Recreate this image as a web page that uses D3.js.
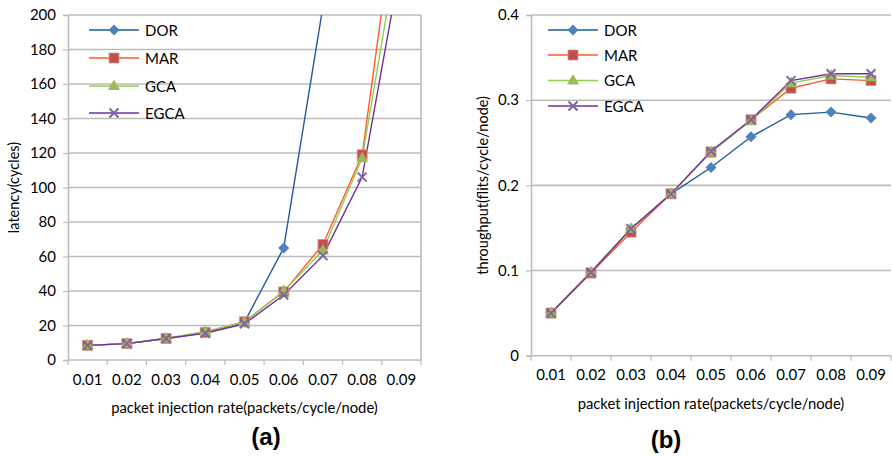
<!DOCTYPE html>
<html>
<head>
<meta charset="utf-8">
<script src="https://cdn.jsdelivr.net/npm/d3@7"></script>
<style>
  body { margin: 0; background: #fff; }
  svg text { font-family: Lato, "Open Sans", sans-serif; fill: #000; }
</style>
</head>
<body>
<div id="chart"></div>
<script>
// injection rates (category axis)
var rates = ["0.01", "0.02", "0.03", "0.04", "0.05", "0.06", "0.07", "0.08", "0.09"];
var seriesNames = ["DOR", "MAR", "GCA", "EGCA"];

// (a) latency (cycles) -- points above 200 are cut off by the axis
var latDOR  = [8.5, 9.5, 12.5, 16, 22, 65, 205];
var latMAR  = [8.5, 9.5, 12.5, 16, 22.2, 39.5, 67, 119, 286];
var latGCA  = [8.5, 9.5, 12.5, 16.5, 22, 40, 63.5, 117, 251];
var latEGCA = [8.5, 9.5, 12.5, 15.5, 21, 37.7, 60.5, 106, 232];

// (b) throughput (flits/cycle/node)
var thrDOR  = [0.050, 0.098, 0.149, 0.190, 0.221, 0.257, 0.283, 0.286, 0.279];
var thrMAR  = [0.050, 0.097, 0.145, 0.190, 0.239, 0.277, 0.314, 0.325, 0.323];
var thrGCA  = [0.050, 0.098, 0.149, 0.190, 0.239, 0.276, 0.320, 0.329, 0.327];
var thrEGCA = [0.050, 0.098, 0.149, 0.190, 0.240, 0.277, 0.323, 0.331, 0.331];

var latTicks = [0, 20, 40, 60, 80, 100, 120, 140, 160, 180, 200];
var thrTicks = [0, 0.1, 0.2, 0.3, 0.4];

var lineColors   = ["#1f5c9f", "#ff5a2b", "#92d050", "#7030a0"];
var markerColors = ["#4f81bd", "#c0504d", "#9bbb59", "#8064a2"];
var markerTypes  = ["diamond", "square", "triangle", "cross"];

var svg = d3.select("#chart").append("svg")
    .attr("width", 892)
    .attr("height", 456);

function drawMarker(g, type, x, y, i) {
  if (type === "cross") {
    g.append("path")
        .attr("d", "M" + (x - 4.5) + "," + (y - 4.5) + "L" + (x + 4.5) + "," + (y + 4.5) +
          "M" + (x - 4.5) + "," + (y + 4.5) + "L" + (x + 4.5) + "," + (y - 4.5))
        .attr("stroke", markerColors[i])
        .attr("stroke-width", 2)
        .attr("fill", "none");
    return;
  }
  if (type === "diamond") {
    g.append("path")
        .attr("d", "M" + x + "," + (y - 5.5) + "L" + (x + 5.5) + "," + y + "L" + x + "," + (y + 5.5) +
          "L" + (x - 5.5) + "," + y + "Z")
        .attr("fill", markerColors[i]);
    return;
  }
  var sym = type === "square" ? d3.symbolSquare : d3.symbolTriangle;
  var size = type === "square" ? 100 : 64;
  g.append("path")
      .attr("d", d3.symbol().type(sym).size(size)())
      .attr("transform", "translate(" + x + "," + (type === "triangle" ? y + 0.5 : y) + ")")
      .attr("fill", markerColors[i])
      .attr("stroke", type === "square" ? "#d99694" : "none")
      .attr("stroke-width", 0.8);
}

function panel(opt) {
  var g = svg.append("g");
  var x = d3.scaleBand().domain(rates).range([opt.left, opt.right]).paddingInner(0).paddingOuter(0);
  var y = d3.scaleLinear().domain(opt.domain).range([opt.bottom, opt.top]);
  var cx = function (i) { return x(rates[i]) + x.bandwidth() / 2; };

  // gridlines
  g.selectAll(".grid").data(opt.ticks.slice(1)).enter().append("line")
      .attr("x1", opt.left).attr("x2", opt.right)
      .attr("y1", function (d) { return y(d); }).attr("y2", function (d) { return y(d); })
      .attr("stroke", "#bcbcbc").attr("stroke-width", 1.6);

  if (opt.rightBorder) {
    g.append("line").attr("x1", opt.right).attr("x2", opt.right)
        .attr("y1", opt.top).attr("y2", opt.bottom)
        .attr("stroke", "#bcbcbc").attr("stroke-width", 1.6);
  }

  // y axis
  var yAxis = g.append("g")
      .attr("transform", "translate(" + opt.left + ",0)")
      .call(d3.axisLeft(y).tickValues(opt.ticks).tickSize(5).tickPadding(7).tickFormat(opt.fmt));
  yAxis.select(".domain").attr("stroke", "#bcbcbc").attr("stroke-width", 1.6);
  yAxis.selectAll(".tick line").attr("stroke", "#bcbcbc").attr("stroke-width", 1.2);
  yAxis.selectAll("text").style("font-size", "15px").style("font-family", "Lato, sans-serif");

  // x axis: labels at category centers, tick marks at category edges
  var xAxis = g.append("g")
      .attr("transform", "translate(0," + opt.bottom + ")")
      .call(d3.axisBottom(x).tickSize(0).tickPadding(opt.xPad));
  xAxis.select(".domain").remove();
  xAxis.selectAll("text").style("font-size", "15px").style("font-family", "Lato, sans-serif");
  g.append("line").attr("x1", opt.left).attr("x2", opt.right)
      .attr("y1", opt.bottom).attr("y2", opt.bottom)
      .attr("stroke", "#bcbcbc").attr("stroke-width", 1.6);
  var edges = rates.map(function (r) { return x(r); }).concat([opt.right]);
  g.selectAll(".edge").data(edges).enter().append("line")
      .attr("x1", function (d) { return d; }).attr("x2", function (d) { return d; })
      .attr("y1", opt.bottom).attr("y2", opt.bottom + 5)
      .attr("stroke", "#bcbcbc").attr("stroke-width", 1.2);

  // series, clipped to the plot area
  var clipId = "clip-" + opt.name;
  g.append("clipPath").attr("id", clipId).append("rect")
      .attr("x", opt.left - 6).attr("y", opt.top)
      .attr("width", opt.right - opt.left + 12).attr("height", opt.bottom - opt.top + 6);
  var plot = g.append("g").attr("clip-path", "url(#" + clipId + ")");
  var line = d3.line().x(function (d, i) { return cx(i); }).y(function (d) { return y(d); });
  opt.series.forEach(function (s, i) {
    plot.append("path").attr("d", line(s))
        .attr("fill", "none").attr("stroke", lineColors[i]).attr("stroke-width", 1.4);
  });
  opt.series.forEach(function (s, i) {
    s.forEach(function (v, j) {
      if (v <= opt.domain[1]) drawMarker(plot, markerTypes[i], cx(j), y(v), i);
    });
  });

  // legend
  seriesNames.forEach(function (n, i) {
    var ly = opt.legendY[i];
    g.append("line").attr("x1", opt.legendX).attr("x2", opt.legendX + 50)
        .attr("y1", ly).attr("y2", ly)
        .attr("stroke", lineColors[i]).attr("stroke-width", 1.4);
    drawMarker(g, markerTypes[i], opt.legendX + 25, ly, i);
    g.append("text").attr("x", opt.legendX + 56).attr("y", ly + 5.5)
        .style("font-size", "15px").text(n);
  });

  // axis titles
  g.append("text")
      .attr("transform", "translate(" + opt.yTitleX + "," + ((opt.top + opt.bottom) / 2) + ") rotate(-90)")
      .attr("text-anchor", "middle")
      .style("font-size", "14.5px")
      .text(opt.yTitle);
  g.append("text")
      .attr("x", (opt.left + opt.right) / 2).attr("y", opt.xTitleY)
      .attr("text-anchor", "middle")
      .style("font-size", "14.8px")
      .text("packet injection rate(packets/cycle/node)");
  g.append("text")
      .attr("x", opt.labelX).attr("y", opt.labelY)
      .attr("text-anchor", "middle")
      .style("font-family", "'Liberation Sans', Arial, sans-serif")
      .style("font-weight", "bold")
      .style("font-size", "24px")
      .text(opt.label);
}

panel({
  name: "a", left: 68, right: 421, top: 15, bottom: 360,
  domain: [0, 200], ticks: latTicks, fmt: d3.format("d"),
  series: [latDOR, latMAR, latGCA, latEGCA],
  rightBorder: true, xPad: 14,
  legendX: 89, legendY: [30, 58, 86, 113],
  yTitle: "latency(cycles)", yTitleX: 19, xTitleY: 413,
  label: "(a)", labelX: 266, labelY: 445
});

panel({
  name: "b", left: 531, right: 891, top: 15, bottom: 355.7,
  domain: [0, 0.4], ticks: thrTicks, fmt: function (d) { return d === 0 ? "0" : d3.format(".1f")(d); },
  series: [thrDOR, thrMAR, thrGCA, thrEGCA],
  rightBorder: false, xPad: 14,
  legendX: 548, legendY: [30, 55, 80.5, 106],
  yTitle: "throughput(flits/cycle/node)", yTitleX: 488, xTitleY: 409,
  label: "(b)", labelX: 666, labelY: 448
});
</script>
</body>
</html>
